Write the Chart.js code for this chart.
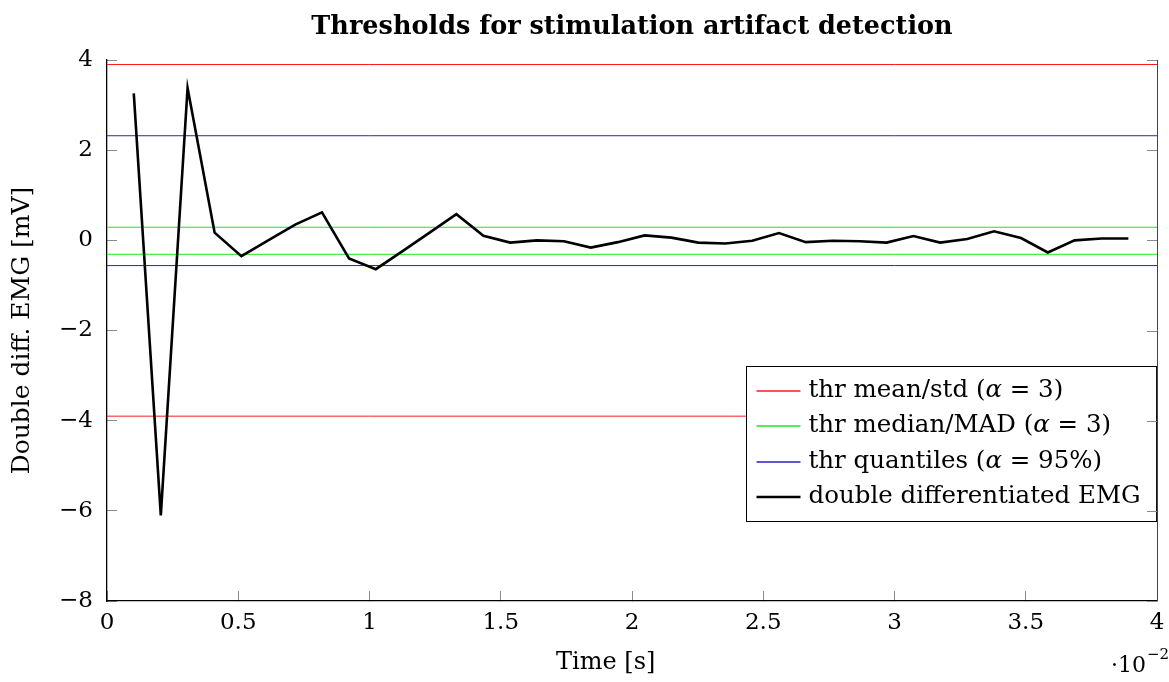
<!DOCTYPE html>
<html>
<head>
<meta charset="utf-8">
<script src="https://cdn.jsdelivr.net/npm/chart.js@4.4.1/dist/chart.umd.min.js"></script>
<style>
  html, body { margin: 0; padding: 0; background: #ffffff; }
  #wrap { width: 1169px; height: 682px; }
</style>
</head>
<body>
<div id="wrap"><canvas id="chart" width="1169" height="682"></canvas></div>
<script>
// Sample times, in units of 10^-2 s
const timeAxis = [
  0.102, 0.205, 0.307, 0.410, 0.512, 0.614, 0.717, 0.819, 0.922, 1.024,
  1.126, 1.229, 1.331, 1.434, 1.536, 1.638, 1.741, 1.843, 1.946, 2.048,
  2.150, 2.253, 2.355, 2.458, 2.560, 2.662, 2.765, 2.867, 2.970, 3.072,
  3.174, 3.277, 3.379, 3.482, 3.584, 3.686, 3.789, 3.891
];
// Double differentiated EMG [mV]
const emgDD = [
  3.26, -6.10, 3.38, 0.17, -0.35, 0.00, 0.35, 0.62, -0.40, -0.64,
  -0.24, 0.17, 0.58, 0.10, -0.05, 0.00, -0.02, -0.16, -0.04, 0.11,
  0.06, -0.05, -0.07, -0.01, 0.16, -0.04, -0.01, -0.02, -0.05, 0.095,
  -0.05, 0.03, 0.20, 0.05, -0.27, 0.00, 0.04, 0.04
];
// Detection thresholds [upper, lower] in mV
const thrMeanStd = [3.90, -3.90];
const thrMedianMad = [0.29, -0.31];
const thrQuantiles = [2.32, -0.56];

const xTicks = [0, 0.5, 1, 1.5, 2, 2.5, 3, 3.5, 4];
const yTicks = [-8, -6, -4, -2, 0, 2, 4];
const xRange = [0, 4];
const yRange = [-8, 4];

const titleText = 'Thresholds for stimulation artifact detection';
const xLabel = 'Time [s]';
const yLabel = 'Double diff. EMG [mV]';
const legendEntries = [
  ['thr mean/std (', 'α', ' = 3)'],
  ['thr median/MAD (', 'α', ' = 3)'],
  ['thr quantiles (', 'α', ' = 95%)'],
  ['double differentiated EMG']
];

const SERIF = "'DejaVu Serif', 'Liberation Serif', serif";
const RED = '#ff1a1a', GREEN = '#1ee61e', BLUE = '#2b20c0', BLACK = '#000000';
const TICK_GREY = '#8a8a8a';

function fmtTick(v) {
  const s = String(Math.abs(v));
  return v < 0 ? '\u2212' + s : s;
}

function hLine(value, color) {
  return {
    data: [{ x: xRange[0], y: value }, { x: xRange[1], y: value }],
    borderColor: color, borderWidth: 1, pointRadius: 0, order: 2
  };
}

const datasets = [
  {
    label: 'double differentiated EMG',
    data: timeAxis.map((t, i) => ({ x: t, y: emgDD[i] })),
    borderColor: BLACK, borderWidth: 2.6, pointRadius: 0, tension: 0,
    borderJoinStyle: 'miter', order: 0
  },
  hLine(thrMeanStd[0], RED), hLine(thrMeanStd[1], RED),
  hLine(thrMedianMad[0], GREEN), hLine(thrMedianMad[1], GREEN),
  hLine(thrQuantiles[0], BLUE), hLine(thrQuantiles[1], BLUE)
];

const legendStyles = [
  { color: RED, width: 1.3 },
  { color: GREEN, width: 1.3 },
  { color: BLUE, width: 1.3 },
  { color: BLACK, width: 2.6 }
];

// Right frame edge with inward ticks
const framePlugin = {
  id: 'frame',
  afterDraw(chart) {
    const ctx = chart.ctx, a = chart.chartArea, ys = chart.scales.y;
    ctx.save();
    ctx.strokeStyle = TICK_GREY;
    ctx.lineWidth = 1;
    ctx.beginPath();
    yTicks.forEach(v => {
      const py = Math.round(ys.getPixelForValue(v)) + 0.5;
      ctx.moveTo(a.right, py);
      ctx.lineTo(a.right - 10, py);
    });
    ctx.stroke();
    ctx.strokeStyle = '#444';
    ctx.beginPath();
    ctx.moveTo(Math.round(a.right) + 0.5, a.top);
    ctx.lineTo(Math.round(a.right) + 0.5, a.bottom);
    ctx.stroke();
    ctx.restore();
  }
};

// Title, x label, boxed legend and the axis multiplier
const decorPlugin = {
  id: 'decor',
  afterDatasetsDraw(chart) {
    const ctx = chart.ctx, a = chart.chartArea;
    ctx.save();
    // title
    ctx.fillStyle = '#000';
    ctx.font = 'bold 25.5px ' + SERIF;
    ctx.textAlign = 'center';
    ctx.textBaseline = 'middle';
    ctx.fillText(titleText, (a.left + a.right) / 2, 27);

    // x axis label
    ctx.font = '24px ' + SERIF;
    ctx.fillText(xLabel, a.left + (a.right - a.left) * 0.475, 663);

    // legend
    const fontUp = '24.5px ' + SERIF, fontIt = 'italic 24.5px ' + SERIF;
    ctx.textAlign = 'left';
    const widths = legendEntries.map(parts => parts.reduce((w, p, j) => {
      ctx.font = j === 1 ? fontIt : fontUp;
      return w + ctx.measureText(p).width;
    }, 0));
    const padL = 10, sample = 44, gap = 8, padR = 16;
    const boxW = padL + sample + gap + Math.max(...widths) + padR;
    const rowH = 35.5, boxH = 155;
    const bx = Math.round(a.right - 1 - boxW) + 0.5;
    const by = Math.round(a.bottom - 80 - boxH) + 0.5;
    ctx.fillStyle = '#fff';
    ctx.fillRect(bx, by, boxW, boxH);
    ctx.strokeStyle = '#000';
    ctx.lineWidth = 1;
    ctx.strokeRect(bx, by, boxW, boxH);
    legendEntries.forEach((parts, i) => {
      const cy = by + 24 + i * rowH;
      const st = legendStyles[i];
      ctx.strokeStyle = st.color;
      ctx.lineWidth = st.width;
      ctx.beginPath();
      ctx.moveTo(bx + padL, Math.round(cy));
      ctx.lineTo(bx + padL + sample, Math.round(cy));
      ctx.stroke();
      let tx = bx + padL + sample + gap;
      ctx.fillStyle = '#000';
      ctx.textBaseline = 'middle';
      parts.forEach((p, j) => {
        ctx.font = j === 1 ? fontIt : fontUp;
        ctx.fillText(p, tx, cy);
        tx += ctx.measureText(p).width;
      });
    });

    // x-axis multiplier  ·10^-2
    ctx.font = '22px ' + SERIF;
    ctx.textBaseline = 'alphabetic';
    ctx.textAlign = 'left';
    const base = '\u00b710';
    const bw = ctx.measureText(base).width;
    ctx.font = '15px ' + SERIF;
    const sup = '\u22122';
    const sw = ctx.measureText(sup).width;
    const startX = 1168 - bw - sw;
    ctx.font = '22px ' + SERIF;
    ctx.fillText(base, startX, 672);
    ctx.font = '15px ' + SERIF;
    ctx.fillText(sup, startX + bw + 1, 659);
    ctx.restore();
  }
};

new Chart(document.getElementById('chart'), {
  type: 'line',
  data: { datasets },
  options: {
    responsive: false,
    animation: false,
    devicePixelRatio: 1,
    layout: { padding: { top: 60, right: 12, bottom: 0, left: 0 } },
    plugins: { legend: { display: false }, tooltip: { enabled: false }, title: { display: false } },
    scales: {
      x: {
        type: 'linear', position: 'bottom', min: xRange[0], max: xRange[1],
        afterBuildTicks: s => { s.ticks = xTicks.map(v => ({ value: v })); },
        afterFit: s => { s.height = 81; s.paddingLeft = 0; s.paddingRight = 0; },
        grid: { drawOnChartArea: false, drawTicks: true, tickLength: -10, color: TICK_GREY, lineWidth: 1 },
        border: { display: true, color: '#000', width: 1.3 },
        ticks: { padding: 18, color: '#000', maxRotation: 0, autoSkip: false,
                 font: { family: SERIF, size: 23 }, callback: v => fmtTick(v) }
      },
      y: {
        type: 'linear', position: 'left', min: yRange[0], max: yRange[1],
        afterBuildTicks: s => { s.ticks = yTicks.map(v => ({ value: v })); },
        afterFit: s => { s.width = 107; },
        grid: { drawOnChartArea: false, drawTicks: true, tickLength: -10, color: TICK_GREY, lineWidth: 1 },
        border: { display: true, color: '#000', width: 1.3 },
        ticks: { padding: 24, color: '#000', autoSkip: false,
                 font: { family: SERIF, size: 23 }, callback: v => fmtTick(v) },
        title: { display: true, text: yLabel, color: '#000', font: { family: SERIF, size: 25 },
                 padding: { top: 7, bottom: 0 } }
      }
    }
  },
  plugins: [decorPlugin, framePlugin]
});
</script>
</body>
</html>
